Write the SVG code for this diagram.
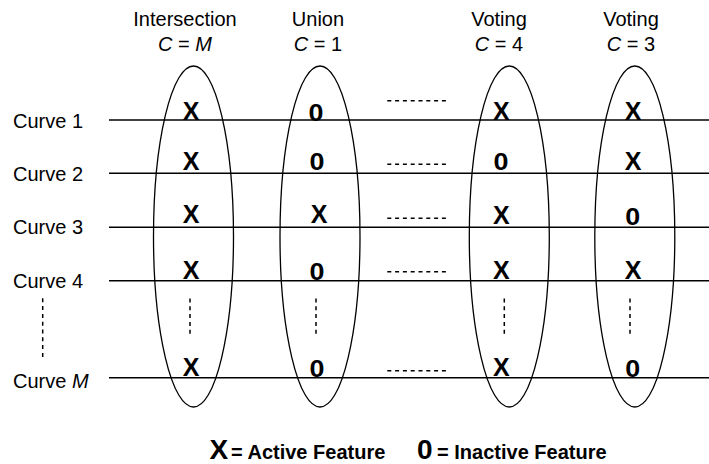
<svg xmlns="http://www.w3.org/2000/svg" width="709" height="464" viewBox="0 0 709 464">
<style>
text{font-family:"Liberation Sans",Arial,sans-serif;fill:#000}
.lbl{font-size:20px}
.hdr{font-size:20px;text-anchor:middle}
.it{font-style:italic}
.mk{font-size:25px;font-weight:bold;text-anchor:middle}
.zr{font-size:24px;font-weight:bold;text-anchor:middle}
.leg{font-size:20px;font-weight:bold}
.ln{stroke:#000;stroke-width:1.5;fill:none}
.el{stroke:#000;stroke-width:1.3;fill:none}
.dash{stroke:#000;stroke-width:1.5;stroke-dasharray:4 3.8;fill:none}
</style>
<rect width="709" height="464" fill="#fff"/>
<g id="connectors">
<line class="ln" x1="109" y1="120" x2="709" y2="120"/>
<line class="ln" x1="109" y1="173.3" x2="709" y2="173.3"/>
<line class="ln" x1="109" y1="227.3" x2="709" y2="227.3"/>
<line class="ln" x1="109" y1="280.7" x2="709" y2="280.7"/>
<line class="ln" x1="109" y1="377.7" x2="709" y2="377.7"/>
<line class="dash" x1="387.3" y1="100.7" x2="447" y2="100.7"/>
<line class="dash" x1="387.3" y1="164.3" x2="447" y2="164.3"/>
<line class="dash" x1="387.3" y1="218.3" x2="447" y2="218.3"/>
<line class="dash" x1="387.3" y1="271.7" x2="447" y2="271.7"/>
<line class="dash" x1="387.3" y1="370.7" x2="447" y2="370.7"/>
<line class="dash" x1="42.7" y1="298.3" x2="42.7" y2="357.5"/>
<line class="dash" x1="190" y1="298.5" x2="190" y2="334.5"/>
<line class="dash" x1="316" y1="298.5" x2="316" y2="334.5"/>
<line class="dash" x1="504.3" y1="298.5" x2="504.3" y2="334.5"/>
<line class="dash" x1="630" y1="298.5" x2="630" y2="334.5"/>
</g>
<g id="curve-labels">
<text class="lbl" x="13" y="128.3">Curve 1</text>
<text class="lbl" x="13" y="181">Curve 2</text>
<text class="lbl" x="13" y="234.3">Curve 3</text>
<text class="lbl" x="13" y="287.7">Curve 4</text>
<text class="lbl" x="13" y="387.7">Curve <tspan class="it">M</tspan></text>
</g>
<g id="col-intersection">
<ellipse class="el" cx="193.5" cy="236.5" rx="40" ry="170.5"/>
<text class="hdr" x="185" y="26">Intersection</text>
<text class="hdr" x="185" y="51"><tspan class="it">C</tspan> = <tspan class="it">M</tspan></text>
<text class="mk" x="191" y="119.5">X</text>
<text class="mk" x="191" y="170">X</text>
<text class="mk" x="191" y="223">X</text>
<text class="mk" x="191" y="278.5">X</text>
<text class="mk" x="191" y="375.5">X</text>
</g>
<g id="col-union">
<ellipse class="el" cx="320" cy="236.5" rx="40" ry="170.5"/>
<text class="hdr" x="318" y="26">Union</text>
<text class="hdr" x="318" y="51"><tspan class="it">C</tspan> = 1</text>
<text class="zr" transform="translate(316,121.3) scale(1.12,1)">0</text>
<text class="zr" transform="translate(317,170) scale(1.12,1)">0</text>
<text class="mk" x="319" y="223">X</text>
<text class="zr" transform="translate(317,280) scale(1.12,1)">0</text>
<text class="zr" transform="translate(317,376.5) scale(1.12,1)">0</text>
</g>
<g id="col-voting4">
<ellipse class="el" cx="509.3" cy="236.5" rx="40" ry="170.5"/>
<text class="hdr" x="499" y="26">Voting</text>
<text class="hdr" x="499" y="51"><tspan class="it">C</tspan> = 4</text>
<text class="mk" x="501.3" y="119.5">X</text>
<text class="zr" transform="translate(501,170) scale(1.12,1)">0</text>
<text class="mk" x="501.3" y="224">X</text>
<text class="mk" x="501.3" y="279">X</text>
<text class="mk" x="501.3" y="376">X</text>
</g>
<g id="col-voting3">
<ellipse class="el" cx="634.8" cy="236.5" rx="40" ry="170.5"/>
<text class="hdr" x="631" y="26">Voting</text>
<text class="hdr" x="631" y="51"><tspan class="it">C</tspan> = 3</text>
<text class="mk" x="633" y="119.5">X</text>
<text class="mk" x="633" y="170">X</text>
<text class="zr" transform="translate(632.7,224.5) scale(1.12,1)">0</text>
<text class="mk" x="633" y="279">X</text>
<text class="zr" transform="translate(632.7,376.5) scale(1.12,1)">0</text>
</g>
<g id="legend">
<text class="leg" x="209.5" y="459.3"><tspan style="font-size:28px">X</tspan><tspan style="font-size:10px"> </tspan><tspan>= Active Feature</tspan></text>
<text class="leg" x="417" y="459.3"><tspan style="font-size:28px">0</tspan><tspan style="font-size:16px"> </tspan><tspan>= Inactive Feature</tspan></text>
</g>
</svg>
